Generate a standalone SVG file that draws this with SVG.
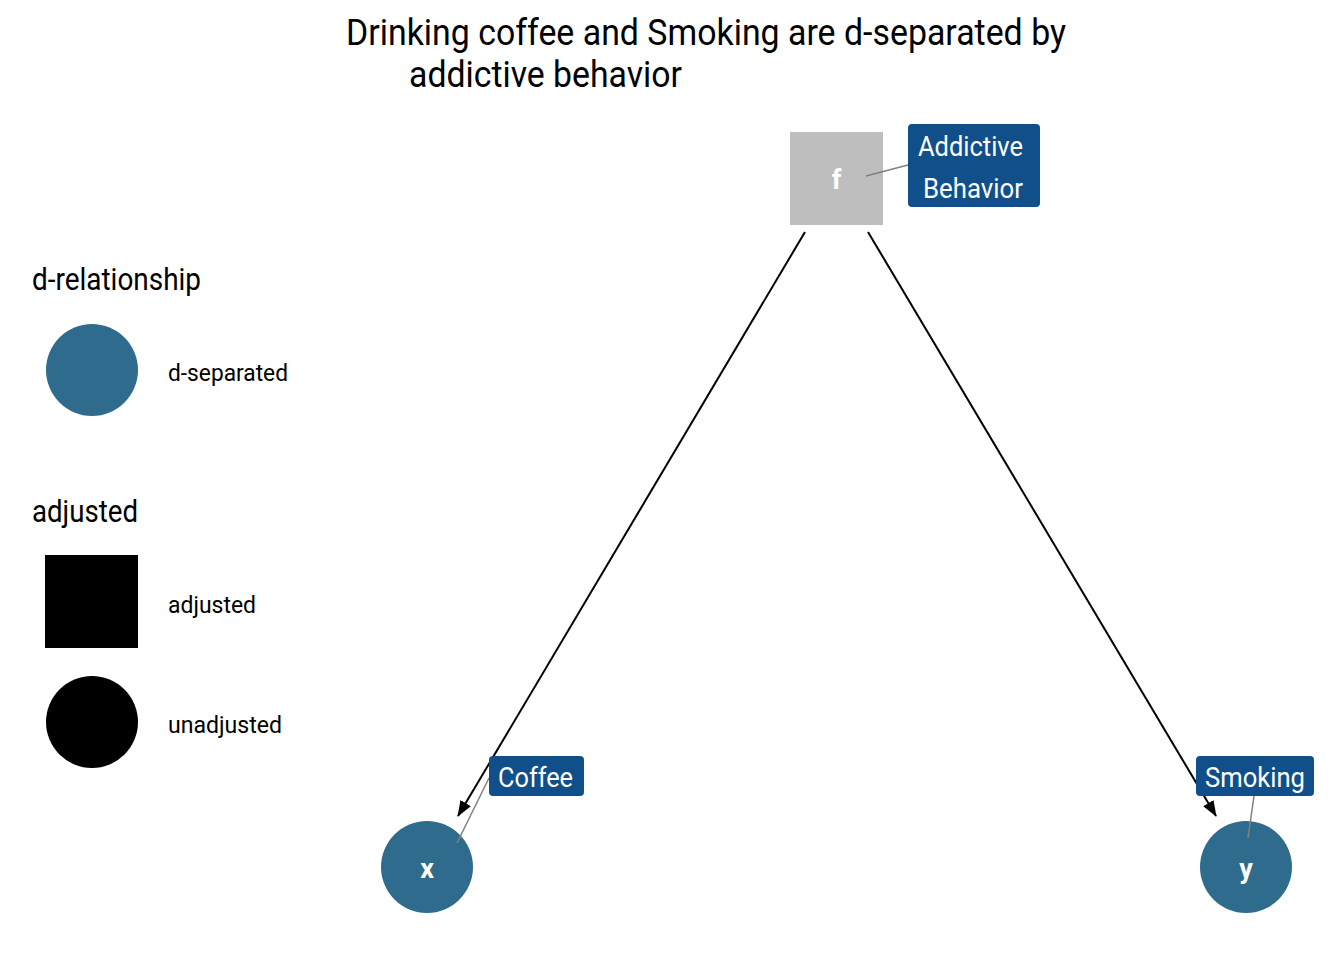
<svg xmlns="http://www.w3.org/2000/svg" width="1344" height="960" viewBox="0 0 1344 960">
<defs>
<style>
text{font-family:"Roboto","Liberation Sans",sans-serif;}
.title{font-size:37px;fill:#000;}
.ltitle{font-size:31px;fill:#000;}
.llab{font-size:24px;fill:#000;}
.nlab{font-size:27px;font-weight:bold;fill:#fff;text-anchor:middle;}
.tag{fill:#114f8b;}
.tagt{font-size:28px;fill:#fff;}
.lead{stroke:#808080;stroke-width:1.5;fill:none;}
.edge{stroke:#000;stroke-width:2;fill:none;marker-end:url(#ah);}
.dsep{fill:#2e6b8c;}
</style>
<marker id="ah" viewBox="0 0 16 12" refX="15" refY="6" markerWidth="16" markerHeight="12" markerUnits="userSpaceOnUse" orient="auto">
<path d="M0,0 L16,6 L0,12 z" fill="#000"/>
</marker>
</defs>
<rect width="1344" height="960" fill="#fff"/>
<g id="title">
<text class="title" x="346" y="45" textLength="720" lengthAdjust="spacingAndGlyphs">Drinking coffee and Smoking are d-separated by</text>
<text class="title" x="409" y="87" textLength="273" lengthAdjust="spacingAndGlyphs">addictive behavior</text>
</g>
<g id="legend">
<text class="ltitle" x="32" y="290" textLength="169" lengthAdjust="spacingAndGlyphs">d-relationship</text>
<circle class="dsep" cx="92" cy="370" r="46"/>
<text class="llab" x="168" y="381" textLength="120" lengthAdjust="spacingAndGlyphs">d-separated</text>
<text class="ltitle" x="32" y="522" textLength="106" lengthAdjust="spacingAndGlyphs">adjusted</text>
<rect x="45" y="555" width="93" height="93" fill="#000"/>
<text class="llab" x="168" y="613" textLength="88" lengthAdjust="spacingAndGlyphs">adjusted</text>
<circle cx="92" cy="722" r="46" fill="#000"/>
<text class="llab" x="168" y="733" textLength="114" lengthAdjust="spacingAndGlyphs">unadjusted</text>
</g>
<g id="connectors">
<line class="edge" x1="805" y1="232" x2="458" y2="816"/>
<line class="edge" x1="868" y1="232" x2="1216" y2="816"/>
</g>
<g id="node-f">
<rect x="790" y="132" width="93" height="93" fill="#bebebe"/>
<text class="nlab" x="836.5" y="189">f</text>
<line class="lead" x1="866" y1="176" x2="908" y2="165"/>
<rect class="tag" x="908" y="124" width="132" height="83" rx="4"/>
<text class="tagt" x="918" y="156" textLength="105" lengthAdjust="spacingAndGlyphs">Addictive</text>
<text class="tagt" x="923" y="198" textLength="100" lengthAdjust="spacingAndGlyphs">Behavior</text>
</g>
<g id="node-x">
<circle class="dsep" cx="427" cy="867" r="46"/>
<text class="nlab" x="427" y="878">x</text>
<line class="lead" x1="457" y1="843" x2="489" y2="778"/>
<rect class="tag" x="489" y="756" width="95" height="40" rx="4"/>
<text class="tagt" x="498" y="787" textLength="75" lengthAdjust="spacingAndGlyphs">Coffee</text>
</g>
<g id="node-y">
<circle class="dsep" cx="1246" cy="867" r="46"/>
<text class="nlab" x="1246" y="878">y</text>
<line class="lead" x1="1248" y1="838" x2="1254" y2="796"/>
<rect class="tag" x="1196" y="756" width="118" height="40" rx="4"/>
<text class="tagt" x="1205" y="787" textLength="100" lengthAdjust="spacingAndGlyphs">Smoking</text>
</g>
</svg>
